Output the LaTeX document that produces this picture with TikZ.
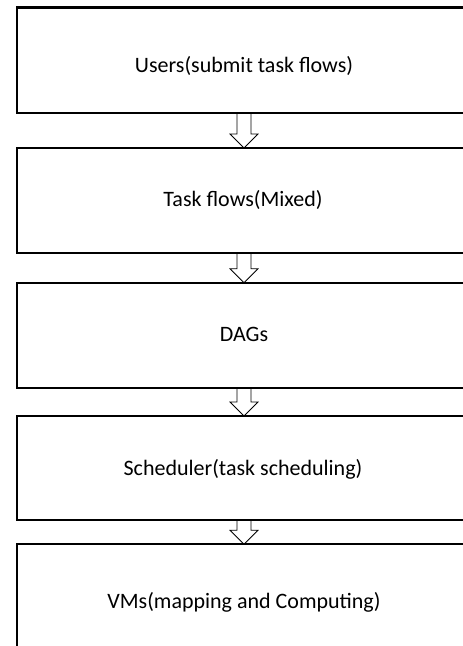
\documentclass[tikz,border=0pt]{standalone}
\usepackage{fontspec}
\setmainfont{Carlito}
\usetikzlibrary{calc}
\begin{document}
\begin{tikzpicture}[x=1pt,y=-1pt,
  box/.style={draw, line width=2.2pt, minimum width=456pt, inner sep=0pt, outer sep=0pt},
  lbl/.style={font=\fontsize{22}{26}\selectfont, anchor=base, inner sep=0pt},
  blockarrow/.style={draw, line width=0.8pt, line join=miter,
    to path={let \p1=(\tikztostart), \p2=(\tikztotarget) in
      (\x1-7pt,\y1) -- (\x1+7pt,\y1) -- (\x1+7pt,\y2+14pt) -- (\x1+14pt,\y2+14pt)
      -- (\x1,\y2) -- (\x1-14pt,\y2+14pt) -- (\x1-7pt,\y2+14pt) -- cycle}}]
\useasboundingbox (0,0) rectangle (463,646);
\clip (0,0) rectangle (463,646);
\fill[white] (0,0) rectangle (463,646);
% boxes
\node[box, minimum height=105.5pt] (b1) at (245,60.25) {};
\node[box, minimum height=104.7pt] (b2) at (245,200.35) {};
\node[box, minimum height=105.3pt] (b3) at (245,335.35) {};
\node[box, minimum height=104pt] (b4) at (245,468) {};
\node[box, minimum height=105pt] (b5) at (245,596.8) {};
% labels
\node[lbl] (t1) at (244,72) {Users(submit task flows)};
\node[lbl] (t2) at (243,206.7) {Task flows(Mixed)};
\node[lbl] (t3) at (244,341.5) {DAGs};
\node[lbl] (t4) at (243,475) {Scheduler(task scheduling)};
\node[lbl] (t5) at (244,608) {VMs(mapping and Computing)};
% arrows
\draw[blockarrow] ([xshift=-1pt]b1.south) to ([xshift=-1pt]b2.north);
\draw[blockarrow] ([xshift=-1pt]b2.south) to ([xshift=-1pt]b3.north);
\draw[blockarrow] ([xshift=-1pt]b3.south) to ([xshift=-1pt]b4.north);
\draw[blockarrow] ([xshift=-1pt]b4.south) to ([xshift=-1pt]b5.north);
\end{tikzpicture}
\end{document}
